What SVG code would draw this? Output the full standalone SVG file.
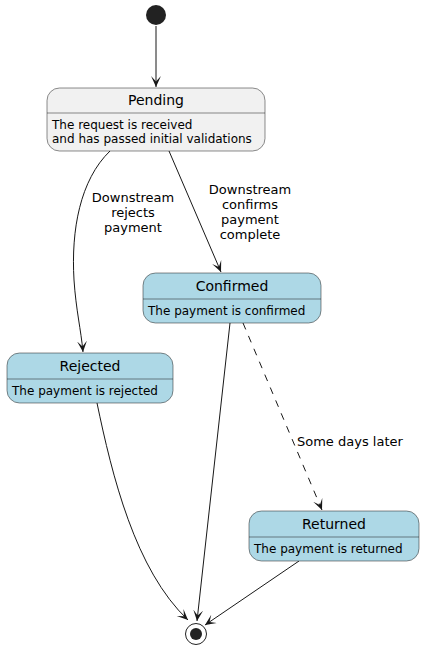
<svg xmlns="http://www.w3.org/2000/svg" width="425" height="649" viewBox="0 0 425 649">
<style>
.st{stroke:#181818;stroke-width:0.5}
.pend{fill:#F1F1F1}
.blue{fill:#ADD8E6}
.sep{stroke:#181818;stroke-width:0.5}
.title{font-family:"DejaVu Sans",sans-serif;font-size:14px;fill:#000;text-anchor:middle}
.body{font-family:"DejaVu Sans",sans-serif;font-size:12px;fill:#000}
.lbl{font-family:"DejaVu Sans",sans-serif;font-size:13px;fill:#000;text-anchor:middle}
.edge{fill:none;stroke:#181818;stroke-width:1}
.dash{stroke-dasharray:7,7}
</style>
<defs>
<marker id="arr" markerUnits="userSpaceOnUse" markerWidth="12" markerHeight="12" viewBox="-10 -5 11 10" refX="0" refY="0" orient="auto">
<path d="M0,0 L-10,-4.5 L-5,0 L-10,4.5 Z" fill="#181818"/>
</marker>
</defs>
<g id="connectors">
<path class="edge" d="M156,26 L156,87" marker-end="url(#arr)"/>
<path class="edge" d="M110,151 C80,180 71,230 74,280 C76,310 81,330 83,352" marker-end="url(#arr)"/>
<text class="lbl" x="133" y="202">Downstream</text>
<text class="lbl" x="133" y="217">rejects</text>
<text class="lbl" x="133" y="232">payment</text>
<path class="edge" d="M169,151 L221,272" marker-end="url(#arr)"/>
<text class="lbl" x="250" y="194">Downstream</text>
<text class="lbl" x="250" y="209">confirms</text>
<text class="lbl" x="250" y="224">payment</text>
<text class="lbl" x="250" y="239">complete</text>
<path class="edge" d="M230,323 L197,621" marker-end="url(#arr)"/>
<path class="edge dash" d="M243,323 L322,510" marker-end="url(#arr)"/>
<text class="lbl" x="297" y="446" style="text-anchor:start">Some days later</text>
<path class="edge" d="M97,403 C112,475 135,570 188,620" marker-end="url(#arr)"/>
<path class="edge" d="M299,561 L205,625" marker-end="url(#arr)"/>
</g>
<g id="start">
<circle cx="156" cy="15" r="10" fill="#222222"/>
</g>
<g id="pending">
<rect class="st pend" x="47" y="88" width="218" height="63" rx="12.5"/>
<line class="sep" x1="47" y1="113" x2="265" y2="113"/>
<text class="title" x="156" y="105">Pending</text>
<text class="body" x="52" y="129">The request is received</text>
<text class="body" x="52" y="143">and has passed initial validations</text>
</g>
<g id="confirmed">
<rect class="st blue" x="143" y="273" width="178" height="50" rx="12.5"/>
<line class="sep" x1="143" y1="299" x2="321" y2="299"/>
<text class="title" x="232" y="291">Confirmed</text>
<text class="body" x="148" y="315">The payment is confirmed</text>
</g>
<g id="rejected">
<rect class="st blue" x="7" y="353" width="166" height="50" rx="12.5"/>
<line class="sep" x1="7" y1="379" x2="173" y2="379"/>
<text class="title" x="90" y="371">Rejected</text>
<text class="body" x="12" y="395">The payment is rejected</text>
</g>
<g id="returned">
<rect class="st blue" x="249" y="511" width="170" height="50" rx="12.5"/>
<line class="sep" x1="249" y1="537" x2="419" y2="537"/>
<text class="title" x="334" y="529">Returned</text>
<text class="body" x="254" y="553">The payment is returned</text>
</g>
<g id="end">
<circle cx="196" cy="634" r="10.5" fill="none" stroke="#222222" stroke-width="1"/>
<circle cx="196" cy="634" r="6" fill="#222222"/>
</g>
</svg>
